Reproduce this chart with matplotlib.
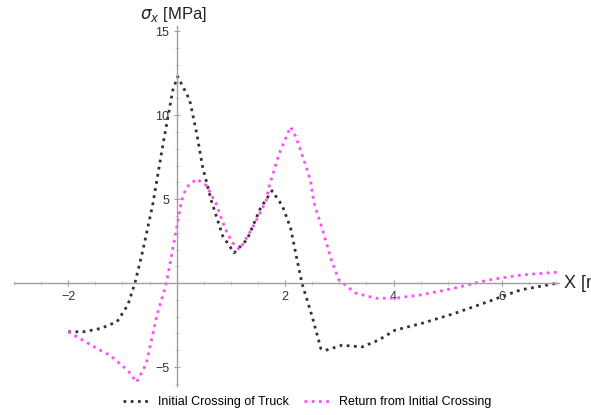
import numpy as np
import matplotlib.pyplot as plt
from matplotlib.ticker import MultipleLocator, FixedLocator

plt.rcParams['font.family'] = ['Liberation Sans', 'DejaVu Sans']

# Longitudinal stress along the deck, first pass of the truck
x_initial = [-2.0, -1.72, -1.4, -1.1, -0.9, -0.77, -0.62, -0.44, -0.25, -0.07, 0.02,
             0.24, 0.37, 0.48, 0.64, 0.85, 1.06, 1.3, 1.55, 1.76, 1.95, 2.1, 2.22,
             2.31, 2.5, 2.66, 2.75, 3.05, 3.42, 3.72, 4.03, 4.52, 5.13, 5.75, 6.0,
             6.35, 7.03]
s_initial = [-2.9, -2.9, -2.7, -2.3, -1.3, 0.0, 2.0, 4.7, 8.3, 11.5, 12.3,
             10.9, 8.9, 6.9, 4.9, 2.8, 1.8, 2.6, 4.5, 5.5, 4.6, 3.3, 1.4,
             0.0, -2.0, -3.9, -4.0, -3.7, -3.8, -3.4, -2.8, -2.4, -1.8, -1.1, -0.8,
             -0.4, 0.0]

# Return trip
x_return = [-2.0, -1.41, -1.23, -0.9, -0.74, -0.56, -0.37, -0.19, -0.04, 0.09, 0.18,
            0.37, 0.55, 0.73, 0.9, 1.03, 1.16, 1.4, 1.65, 1.7, 1.89, 2.1, 2.2,
            2.35, 2.47, 2.53, 2.68, 2.84, 2.99, 3.3, 3.67, 4.03, 4.51, 5.13, 5.74,
            6.35, 7.03]
s_return = [-2.9, -4.0, -4.3, -5.2, -5.9, -4.8, -2.0, 0.0, 2.6, 4.9, 5.7,
            6.2, 5.8, 4.7, 3.2, 2.4, 2.0, 3.3, 4.9, 5.7, 7.7, 9.3, 8.7,
            7.3, 6.1, 4.8, 3.3, 1.5, 0.2, -0.6, -0.9, -0.9, -0.7, -0.3, 0.18,
            0.48, 0.65]

fig = plt.figure(figsize=(5.91, 4.15), dpi=100)
ax = fig.add_axes([0.0237, 0.071, 0.922, 0.866])

ax.plot(x_initial, s_initial, color='#333333', ls=(0, (1, 1.6)), lw=2,
        label='Initial Crossing of Truck')
ax.plot(x_return, s_return, color='#ff4cff', ls=(0, (1, 1.6)), lw=2,
        label='Return from Initial Crossing')

ax.set_xlim(-3, 7.05)
ax.set_ylim(-6.1, 15.3)

# axes through the origin
for side in ('top', 'right'):
    ax.spines[side].set_visible(False)
for side in ('left', 'bottom'):
    ax.spines[side].set_position('zero')
    ax.spines[side].set_color('#a0a0a0')
    ax.spines[side].set_linewidth(1.0)

ax.xaxis.set_major_locator(FixedLocator([-2, 2, 4, 6]))
ax.yaxis.set_major_locator(FixedLocator([-5, 5, 10, 15]))
ax.xaxis.set_minor_locator(MultipleLocator(0.5))
ax.yaxis.set_minor_locator(MultipleLocator(1))
ax.tick_params(which='major', direction='inout', length=5, width=0.8,
               color='#a0a0a0', labelsize=9, labelcolor='#333333', pad=3)
ax.tick_params(which='minor', direction='inout', length=3, width=0.6,
               color='#c0c0c0')

ax.text(7.15, 0, 'X [m]', fontsize=13, color='#222222', va='center', ha='left',
        clip_on=False)
ax.text(-0.68, 16.0, r'$\sigma_x$ [MPa]', fontsize=12, color='#222222',
        va='center', ha='left', clip_on=False)

fig.legend(loc='center', bbox_to_anchor=(0.52, 0.031), ncol=2, frameon=False,
           fontsize=9, handlelength=2.2, columnspacing=1.2, handletextpad=0.6)

fig.savefig('out.png', dpi=100)
